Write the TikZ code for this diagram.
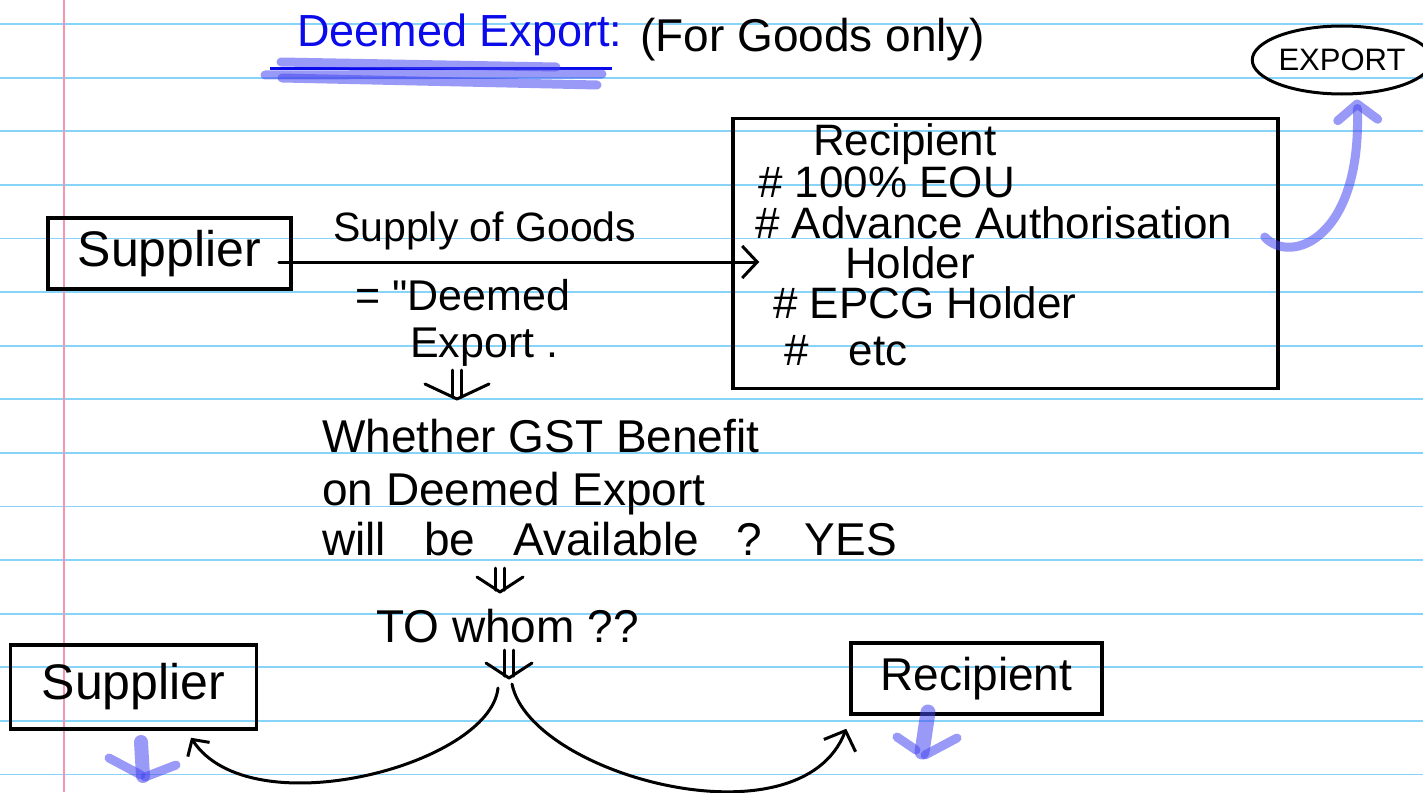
\documentclass[tikz,border=0pt]{standalone}
\usepackage{fontspec}
\setmainfont{Liberation Sans}
\newfontfamily\plainfont{Liberation Sans}
\usetikzlibrary{arrows.meta,shapes.geometric,calc}
\definecolor{rulecol}{RGB}{135,212,248}
\definecolor{margincol}{RGB}{245,150,175}
\definecolor{titleblue}{RGB}{10,10,235}
\definecolor{hl}{RGB}{70,70,240}
\newcommand\fs[1]{\fontsize{#1}{#1}\selectfont}
\newcommand\ddarrow[3]{%
  \draw[pen] ([xshift=-4.5pt]#1) -- ([xshift=-4.5pt]#2);
  \draw[pen] ([xshift=4.5pt]#1) -- ([xshift=4.5pt]#2);
  \draw[pen] ([shift={(-#3,13pt)}]#2) -- ([yshift=-2pt]#2) -- ([shift={(#3,13pt)}]#2);}
\begin{document}
\begin{tikzpicture}[x=1pt,y=-1pt,
  pen/.style={line width=3pt, line cap=round, line join=round},
  box/.style={draw, line width=3.5pt, rectangle, inner sep=0pt},
  txt/.style={inner sep=0pt, anchor=base west},
  hlpen/.style={draw=hl, opacity=0.55, line width=9pt, line cap=round, line join=round},
]
\useasboundingbox (0,0) rectangle (1423,792);
% ruled paper
\foreach \k in {0,...,14} \draw[rulecol, line width=1.8pt] (0,24+53.6*\k) -- (1423,24+53.6*\k);
\draw[margincol, line width=2pt] (63.5,0) -- (63.5,792);

% title
\node[txt, text=titleblue, font=\fs{45}] (title) at (297,47) {Deemed Export:};
\node[txt, font=\fs{46}] (subtitle) at (640,52) {(For Goods only)};
\draw[titleblue, line width=3pt] (270,68) -- (612,68);
\draw[hlpen] (281,62) -- (556,67);
\draw[hlpen] (265,75) -- (602,74);
\draw[hlpen] (282,78) -- (597,85);

% export ellipse
\node[ellipse, draw, line width=3pt, minimum width=160pt, minimum height=68pt, inner sep=0pt, font=\fs{31}] (export) at (1342,60) {EXPORT};

% top row
\node[box, minimum width=243pt, minimum height=71pt, font=\fs{50}] (sup1) at (169.5,253.5) {Supplier\hspace{20pt}};
\node[box, minimum width=545pt, minimum height=270pt] (rec1) at (1005.5,253.5) {};
\node[txt, font=\fs{44}] (rtitle) at (813,155) {Recipient};
\node[txt, font=\fs{44}] (r1) at (758,197) {\# 100\% EOU};
\node[txt, font=\fs{44}] (r2) at (755,238) {\# Advance Authorisation};
\node[txt, font=\fs{44}] (r2b) at (845,278) {Holder};
\node[txt, font=\fs{44}] (r3) at (773,318) {\# EPCG Holder};
\node[txt, font=\fs{44}] (r4) at (784,365) {\#\hspace{40pt}etc};

\draw[pen, -{Straight Barb[length=15pt,width=32pt]}] ([xshift=-14pt,yshift=-8.5pt]sup1.east) -- ([xshift=28pt,yshift=-8.5pt]rec1.west);
\node[txt, font=\fs{41}] (supply) at (333,241) {Supply of Goods};
\node[txt, font=\fs{43}] (deemed1) at (355,310) {= {\plainfont "}Deemed};
\node[txt, font=\fs{43}] (deemed2) at (410,357) {Export\hspace{12pt}.};

\draw[hlpen, -{Straight Barb[length=16pt,width=40pt,round]}] ([xshift=-15pt,yshift=16.5pt]rec1.east) .. controls (1290,265) and (1362,240) .. ([xshift=15pt,yshift=-4pt]export.south);

% question
\coordinate (d1s) at ([xshift=47pt,yshift=-13pt]deemed2.base west);
\coordinate (d1e) at ([yshift=-27pt]d1s);
\ddarrow{d1s}{d1e}{32pt}
\node[txt, font=\fs{46}] (q1) at (322,452) {Whether GST Benefit};
\node[txt, font=\fs{46}] (q2) at (322,505) {on Deemed Export};
\node[txt, font=\fs{46}] (q3) at (322,555) {\spaceskip=38pt will be Available ? YES};
\coordinate (d2s) at ([xshift=178pt,yshift=-13pt]q3.base west);
\coordinate (d2e) at ([yshift=-22pt]d2s);
\ddarrow{d2s}{d2e}{23pt}
\node[txt, font=\fs{46}] (towhom) at (376,642) {TO whom ??};
\coordinate (d3s) at ([xshift=133pt,yshift=-8pt]towhom.base west);
\coordinate (d3e) at ([yshift=-26pt]d3s);
\ddarrow{d3s}{d3e}{23pt}

% bottom row
\node[box, minimum width=246pt, minimum height=84pt, font=\fs{50}] (sup2) at (133.5,687) {Supplier};
\node[box, minimum width=251pt, minimum height=71pt, font=\fs{46}] (rec2) at (976.5,678.5) {Recipient\hspace{12pt}};
\draw[pen, -{Straight Barb[length=12pt,width=26pt]}] ([shift={(-11pt,-12pt)}]d3e) .. controls (490,765) and (250,828) .. ([xshift=57.5pt,yshift=-7pt]sup2.south);
\draw[pen, -{Straight Barb[length=16pt,width=34pt]}] ([shift={(3pt,-8pt)}]d3e) .. controls (530,775) and (800,848) .. ([shift={(-3pt,-13pt)}]rec2.south west);

% highlighter down arrows
\draw[hlpen, line width=14pt] (141,742) -- (143,776);
\draw[hlpen] (109,758) -- (141,775);
\draw[hlpen] (176,765) -- (145,777);
\draw[hlpen, line width=15pt] (928,712) -- (922,752);
\draw[hlpen] (897,737) -- (916,750);
\draw[hlpen] (957,738) -- (925,755);
\end{tikzpicture}
\end{document}
